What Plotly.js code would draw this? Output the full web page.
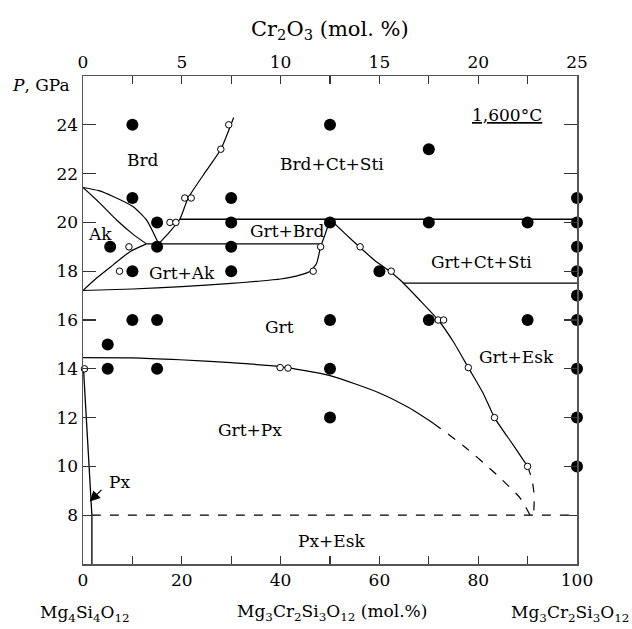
<!DOCTYPE html>
<html>
<head>
<meta charset="utf-8">
<script src="https://cdn.plot.ly/plotly-3.0.1.min.js"></script>
<style>html,body{margin:0;padding:0;background:#fff;}#chart{width:632px;height:629px;}</style>
</head>
<body>
<div id="chart"></div>
<script>
// ---- data (composition in mol.% Mg3Cr2Si3O12, pressure in GPa) ----
const filledX = [10,50,70, 10,30,100, 15,30,50,70,90,100, 5.5,15,30,100, 10,30,60,100, 100, 10,15,50,70,90,100, 5, 5,15,50,100, 50,100, 100];
const filledP = [24,24,23, 21,21,21,  20,20,20,20,20,20,  19,19,19,19,   18,18,18,18,   17,  16,16,16,16,16,16,  15, 14,14,14,14, 12,12,  10];

const openX = [29.5,27.9,20.6,21.9,17.6,18.8,9.3,7.4,48.1,46.6,56.1,62.4,71.9,73.0,78.0,83.3,90.0,39.9,41.5,0.3];
const openP = [24.0,23.0,21.0,21.0,20.0,20.0,19.0,18.0,19.0,18.0,19.0,18.0,16.0,16.0,14.05,12.0,10.0,14.05,14.03,14.0];

// phase boundaries
const brdAkUpperX = [0,3.2,6.1,10.1,12.85,15.3];
const brdAkUpperP = [21.43,21.3,21.06,20.65,20.1,19.12];
const akUpperLowX = [0,3.4,6.8,10.1,12.85];
const akUpperLowP = [21.43,20.79,20.1,19.52,19.12];
const akLowerX = [0,2.7,6.1,9.5,12.85];
const akLowerP = [17.21,17.71,18.26,18.8,19.12];
const grtAkTopX = [12.85,48.3];
const grtAkTopP = [19.12,19.12];
const brdLineX = [15.3,17.5,19.6,21.3,25.0,27.9,30.5];
const brdLineP = [19.12,19.6,20.13,21.0,22.13,23.0,24.3];
const upperFlatX = [19.6,100];
const upperFlatP = [20.13,20.13];
const grtTopX = [0,10,20,30,35,40,44,46,47.3,48.1,49,50];
const grtTopP = [17.21,17.27,17.37,17.5,17.58,17.68,17.85,18.0,18.33,19.0,19.5,20.13];
const eskX = [50,53,56.1,59,62.4,64.2,68,71.9,75,78,81,83.3,87,90];
const eskP = [20.13,19.55,18.97,18.45,17.95,17.64,16.85,16.0,15.1,14.05,13.0,12.0,10.9,10.0];
const eskDashX = [90,90.9,91.35,91.2];
const eskDashP = [10,9.45,8.77,8.0];
const ctStiX = [64.8,100];
const ctStiP = [17.51,17.51];
const pxGrtX = [0,10,19.6,30,39.9,50,60.1,66,70.9];
const pxGrtP = [14.46,14.45,14.37,14.25,14.09,13.72,13.0,12.4,11.77];
const pxGrtDashX = [70.9,77.0,83.8,88.5,90.5];
const pxGrtDashP = [11.77,10.85,9.65,8.7,8.0];
const pxLineX = [0.1,1.8,1.8];
const pxLineP = [14.0,8.0,6.0];
const eightX = [1.8,100];
const eightP = [8,8];

// axis ticks
const xTickVals = [0,10,20,30,40,50,60,70,80,90,100];
const xTickText = ['0','','20','','40','','60','','80','','100'];
const x2TickVals = [0,2.5,5,7.5,10,12.5,15,17.5,20,22.5,25];
const x2TickText = ['0','','5','','10','','15','','20','','25'];
const yTickVals = [8,10,12,14,16,18,20,22,24];
const yTickText = ['8','10','12','14','16','18','20','22','24'];

// field labels
const labelText = ['Brd','Ak','Grt+Ak','Brd+Ct+Sti','Grt+Brd','Grt','Grt+Ct+Sti','Grt+Esk','Grt+Px','Px+Esk','Px'];
const labelX = [12.1,3.5,20.1,50.5,41.3,39.7,80.7,87.8,33.8,50.3,7.4];
const labelP = [22.56,19.53,17.92,22.4,19.65,15.7,18.37,14.5,11.5,6.95,9.38];

// ---- build ----
const FONT = 'DejaVu Serif, Noto Serif, Tinos, serif';
const FS = 17;
function line(x, y, dash, w) {
  return {x: x, y: y, type: 'scatter', mode: 'lines', hoverinfo: 'skip', showlegend: false,
          line: {color: '#000', width: w || 1.2, dash: dash || 'solid', shape: 'linear'}};
}
function curve(x, y, dash) {
  const t = line(x, y, dash);
  t.line.shape = 'spline';
  t.line.smoothing = 0.6;
  return t;
}
const traces = [
  curve(brdAkUpperX, brdAkUpperP),
  curve(akUpperLowX, akUpperLowP),
  curve(akLowerX, akLowerP),
  line(grtAkTopX, grtAkTopP, 'solid', 1.4),
  curve(brdLineX, brdLineP),
  line(upperFlatX, upperFlatP, 'solid', 1.6),
  curve(grtTopX, grtTopP),
  curve(eskX, eskP),
  curve(eskDashX, eskDashP, 'dash'),
  line(ctStiX, ctStiP, 'solid', 1.4),
  curve(pxGrtX, pxGrtP),
  curve(pxGrtDashX, pxGrtDashP, 'dash'),
  line(pxLineX, pxLineP, 'solid', 1.3),
  line(eightX, eightP, 'dash', 1.3),
  {x: openX, y: openP, type: 'scatter', mode: 'markers', showlegend: false, hoverinfo: 'skip', cliponaxis: false,
   marker: {symbol: 'circle', size: 6.5, color: '#fff', line: {color: '#000', width: 1}}},
  {x: filledX, y: filledP, type: 'scatter', mode: 'markers', showlegend: false, hoverinfo: 'skip', cliponaxis: false,
   marker: {symbol: 'circle', size: 12, color: '#000', line: {width: 0}}},
  {x: [], y: [], xaxis: 'x2', yaxis: 'y2', type: 'scatter', showlegend: false}
];

const annotations = labelText.map((t, i) => ({
  x: labelX[i], y: labelP[i], xref: 'x', yref: 'y', text: t, showarrow: false, xanchor: 'center', yanchor: 'middle',
  font: {family: FONT, size: FS, color: '#000'}
}));
annotations.push({x: 1.35, y: 8.56, xref: 'x', yref: 'y', ax: 4.05, ay: 9.1, axref: 'x', ayref: 'y',
  text: '', showarrow: true, arrowhead: 2, arrowsize: 1.6, arrowwidth: 1.3, arrowcolor: '#000', standoff: 0});
annotations.push({x: 85.9, y: 24.4, xref: 'x', yref: 'y', showarrow: false, xanchor: 'center',
  text: '<span style="text-decoration:underline">1,600°C</span>', font: {family: FONT, size: FS, color: '#000'}});
annotations.push({x: 0.5, y: 1.094, xref: 'paper', yref: 'paper', showarrow: false, xanchor: 'center', yanchor: 'middle',
  text: 'Cr<sub>2</sub>O<sub>3</sub> (mol. %)', font: {family: FONT, size: 21, color: '#000'}});
annotations.push({x: 0.504, y: -0.1, xref: 'paper', yref: 'paper', showarrow: false, xanchor: 'center', yanchor: 'middle',
  text: 'Mg<sub>3</sub>Cr<sub>2</sub>Si<sub>3</sub>O<sub>12</sub> (mol.%)', font: {family: FONT, size: FS, color: '#000'}});
annotations.push({x: 0.004, y: -0.102, xref: 'paper', yref: 'paper', showarrow: false, xanchor: 'center', yanchor: 'middle',
  text: 'Mg<sub>4</sub>Si<sub>4</sub>O<sub>12</sub>', font: {family: FONT, size: FS, color: '#000'}});
annotations.push({x: 0.986, y: -0.102, xref: 'paper', yref: 'paper', showarrow: false, xanchor: 'center', yanchor: 'middle',
  text: 'Mg<sub>3</sub>Cr<sub>2</sub>Si<sub>3</sub>O<sub>12</sub>', font: {family: FONT, size: FS, color: '#000'}});
annotations.push({x: -0.023, y: 0.982, xref: 'paper', yref: 'paper', showarrow: false, xanchor: 'right', yanchor: 'middle',
  text: '<i>P</i>, GPa', font: {family: FONT, size: FS, color: '#000'}});

const axisCommon = {showgrid: false, zeroline: false, showline: true, linecolor: '#555', linewidth: 1.5,
  ticks: 'inside', tickcolor: '#333', tickwidth: 1.3, tickfont: {family: FONT, size: FS, color: '#000'}, fixedrange: true};

const layout = {
  width: 632, height: 629,
  margin: {l: 83, r: 55, t: 76, b: 65, pad: 0},
  paper_bgcolor: '#fff', plot_bgcolor: '#fff',
  font: {family: FONT, color: '#000'},
  showlegend: false,
  xaxis: Object.assign({}, axisCommon, {range: [0, 100], tickmode: 'array', tickvals: xTickVals, ticktext: xTickText, ticklen: 8}),
  xaxis2: Object.assign({}, axisCommon, {range: [0, 25], overlaying: 'x', side: 'top', anchor: 'y2', tickmode: 'array', tickvals: x2TickVals, ticktext: x2TickText, ticklen: 8}),
  yaxis: Object.assign({}, axisCommon, {range: [6, 26], tickmode: 'array', tickvals: yTickVals, ticktext: yTickText, ticklen: 13}),
  yaxis2: Object.assign({}, axisCommon, {range: [6, 26], overlaying: 'y', side: 'right', anchor: 'x2', tickmode: 'array', tickvals: yTickVals, ticklen: 13, showticklabels: false}),
  annotations: annotations
};

Plotly.newPlot('chart', traces, layout, {staticPlot: true, displayModeBar: false});
</script>
</body>
</html>
